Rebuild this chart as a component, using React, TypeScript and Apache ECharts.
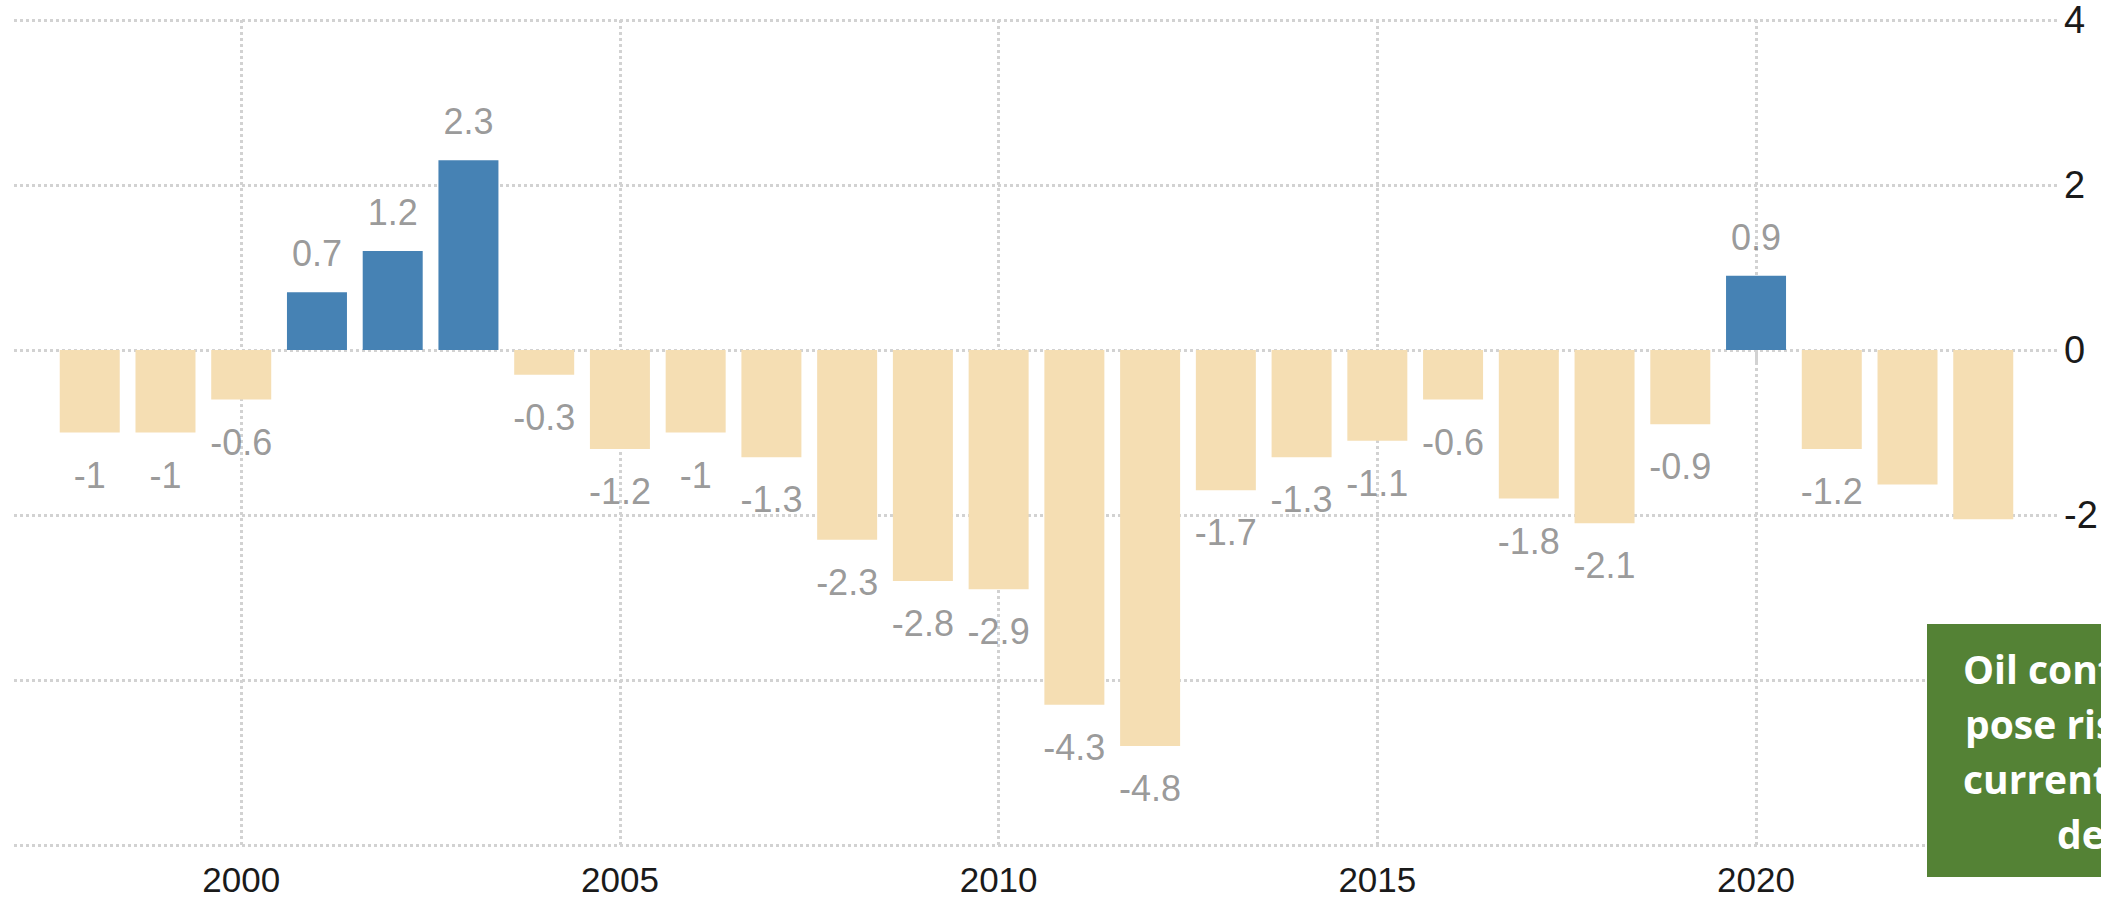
import React, { useEffect, useRef } from "react";
import * as echarts from "echarts";

// Categories (axis runs from 1997 to 2024 so that bars sit inside with padding)
const axisYears = [
  "1997", "1998", "1999", "2000", "2001", "2002", "2003", "2004", "2005", "2006",
  "2007", "2008", "2009", "2010", "2011", "2012", "2013", "2014", "2015", "2016",
  "2017", "2018", "2019", "2020", "2021", "2022", "2023", "2024",
];

// Values per year (null = no bar)
const balanceValues: (number | null)[] = [
  null, -1, -1, -0.6, 0.7, 1.2, 2.3, -0.3, -1.2, -1, -1.3, -2.3, -2.8, -2.9,
  -4.3, -4.8, -1.7, -1.3, -1.1, -0.6, -1.8, -2.1, -0.9, 0.9, -1.2, -1.63, -2.05, null,
];

// Whether each bar shows its value label
const labelShown: boolean[] = [
  false, true, true, true, true, true, true, true, true, true, true, true, true, true,
  true, true, true, true, true, true, true, true, true, true, true, false, false, false,
];

// Y-axis ticks (labels below -2 are hidden behind the note box in the reference)
const yMin = -6;
const yMax = 4;
const yStep = 2;
const yLabelFloor = -2;

const noteLines = ["Oil contraction to", "pose risks to the", "current account", "deficit"];
const noteLineX = [1963, 1965, 1963, 2057];

const POS = "#4682B4";
const NEG = "#F5DEB3";
const GRID = "#d2d2d2";
const FONT = "Liberation Sans, Arial, sans-serif";

const isMajor = (_i: number, v: string) => Number(v) % 5 === 0;

export default function App() {
  const ref = useRef<HTMLDivElement>(null);

  useEffect(() => {
    if (!ref.current) return;
    const chart = echarts.init(ref.current, null, { renderer: "svg" });

    const labelData = balanceValues.map((v, i) => {
      if (v === null || !labelShown[i]) return { value: "-" };
      const pos = v >= 0;
      return {
        value: v,
        label: {
          show: true,
          position: pos ? "top" : "bottom",
          distance: pos ? 20 : 24,
        },
      };
    });

    chart.setOption({
      animation: false,
      backgroundColor: "#ffffff",
      grid: { left: 14, right: 42, top: 20, bottom: 63, containLabel: false },
      xAxis: {
        type: "category",
        data: axisYears,
        boundaryGap: false,
        axisLine: { show: false },
        axisTick: {
          show: true,
          interval: isMajor,
          length: 12,
          lineStyle: { color: GRID, width: 3 },
        },
        axisLabel: {
          interval: isMajor,
          fontSize: 35,
          fontFamily: FONT,
          color: "#1a1a1a",
          margin: 17,
        },
        splitLine: {
          show: true,
          interval: isMajor,
          lineStyle: { color: GRID, width: 3, type: [3, 3] },
        },
      },
      yAxis: {
        type: "value",
        position: "right",
        min: yMin,
        max: yMax,
        interval: yStep,
        axisLine: { show: false },
        axisTick: { show: false },
        axisLabel: {
          fontSize: 38,
          fontFamily: FONT,
          color: "#1a1a1a",
          margin: 5,
          formatter: (v: number) => (v < yLabelFloor ? "" : String(v)),
        },
        splitLine: {
          show: true,
          lineStyle: { color: GRID, width: 3, type: [3, 3] },
        },
      },
      series: [
        {
          type: "bar",
          data: balanceValues.map((v) => (v === null ? "-" : v)),
          barWidth: 60,
          itemStyle: {
            color: (p: any) => (Number(p.value) >= 0 ? POS : NEG),
          },
          z: 2,
        },
        {
          type: "scatter",
          data: labelData,
          symbol: "circle",
          symbolSize: 1,
          itemStyle: { color: "rgba(0,0,0,0)" },
          label: {
            show: false,
            formatter: (p: any) => String(p.value),
            fontSize: 36,
            fontFamily: FONT,
            color: "#808080",
          },
          silent: true,
          z: 3,
        },
      ],
      graphic: [
        {
          type: "rect",
          left: 1927,
          top: 624,
          shape: { width: 200, height: 253 },
          style: { fill: "#548235" },
          z: 10,
        },
        ...noteLines.map((t, i) => ({
          type: "text",
          x: noteLineX[i],
          y: 668 + i * 55,
          z: 11,
          style: {
            text: t,
            fill: "#ffffff",
            font: "bold 39px 'Open Sans', sans-serif",
            verticalAlign: "middle",
            align: "left",
          },
        })),
      ],
    });

    return () => chart.dispose();
  }, []);

  return (
    <div
      ref={ref}
      style={{ position: "fixed", left: 0, top: 0, width: 2101, height: 908, background: "#fff" }}
    />
  );
}
